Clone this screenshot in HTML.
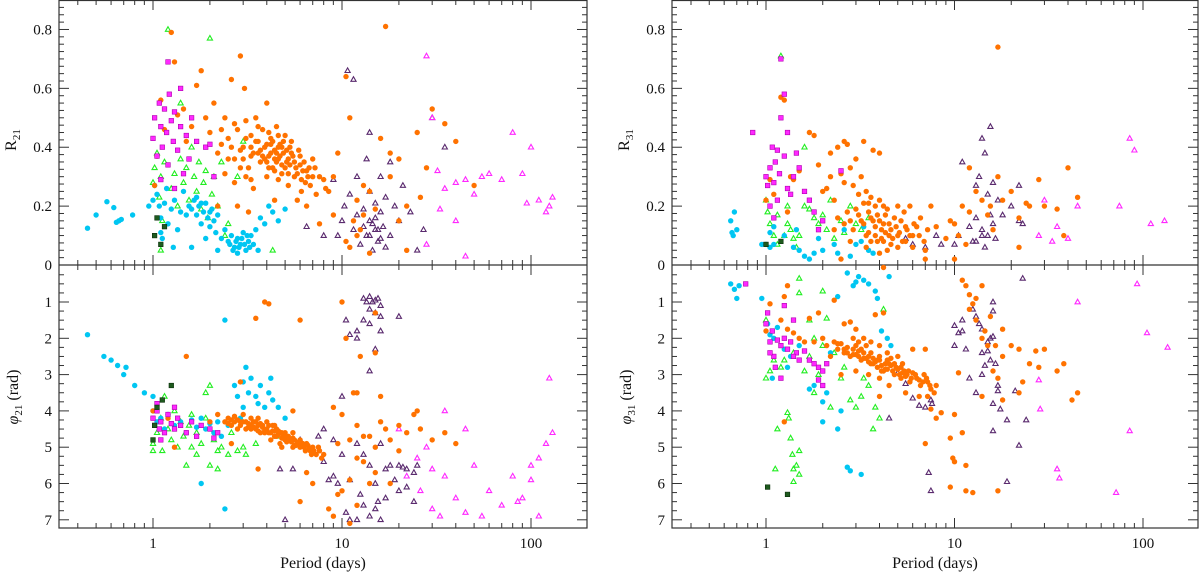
<!DOCTYPE html>
<html><head><meta charset="utf-8"><style>
html,body{margin:0;padding:0;background:#fff;width:1200px;height:576px;overflow:hidden}
svg text{font-family:"Liberation Serif",serif;fill:#111}
</style></head><body>
<svg id="chart" width="1200" height="576" xmlns="http://www.w3.org/2000/svg"></svg>
<script>
// ===== data: [period, value] pairs per series =====
const r21Cyan=[[0.45,0.125],[0.5,0.17],[0.57,0.215],[0.62,0.195],[0.64,0.145],[0.66,0.15],[0.68,0.155],[0.78,0.17],[0.95,0.2],[1.0,0.22],[1.02,0.27],[1.05,0.24],[1.08,0.2],[1.1,0.16],[1.12,0.09],[1.15,0.21],[1.18,0.26],[1.2,0.14],[1.25,0.19],[1.3,0.22],[1.35,0.12],[1.4,0.18],[1.45,0.25],[1.5,0.17],[1.55,0.2],[1.6,0.19],[1.65,0.22],[1.7,0.17],[1.75,0.2],[1.8,0.14],[1.85,0.18],[1.9,0.21],[1.95,0.16],[2.0,0.13],[2.05,0.19],[2.1,0.15],[2.15,0.11],[2.2,0.17],[2.3,0.09],[2.4,0.12],[2.5,0.08],[2.6,0.1],[2.7,0.06],[2.8,0.09],[2.9,0.07],[3.0,0.11],[3.1,0.05],[3.2,0.08],[3.3,0.1],[3.4,0.07],[3.5,0.12],[3.7,0.16],[3.9,0.14],[4.1,0.2],[4.3,0.18],[4.6,0.15],[5.0,0.19],[1.28,0.06],[1.6,0.06],[2.2,0.05],[2.8,0.04],[3.6,0.05],[1.1,0.11],[1.9,0.09],[2.55,0.07],[2.65,0.05],[2.75,0.08],[2.85,0.06],[2.95,0.09],[3.05,0.07],[3.15,0.1],[3.25,0.06],[1.7,0.23],[1.8,0.21],[2.0,0.18]];
const r21Mag=[[1.0,0.43],[1.02,0.5],[1.05,0.37],[1.08,0.55],[1.1,0.47],[1.12,0.4],[1.15,0.53],[1.18,0.45],[1.2,0.34],[1.22,0.58],[1.25,0.49],[1.28,0.42],[1.3,0.52],[1.35,0.39],[1.4,0.47],[1.45,0.31],[1.5,0.44],[1.55,0.36],[1.6,0.5],[1.1,0.29],[1.3,0.26],[1.7,0.42],[1.9,0.4],[2.0,0.41],[2.1,0.3],[1.2,0.69],[1.4,0.6]];
const r21Green=[[1.0,0.28],[1.02,0.33],[1.05,0.38],[1.08,0.23],[1.1,0.3],[1.12,0.15],[1.15,0.35],[1.2,0.8],[1.25,0.26],[1.3,0.31],[1.35,0.2],[1.4,0.36],[1.45,0.28],[1.5,0.33],[1.55,0.22],[1.6,0.4],[1.65,0.3],[1.7,0.25],[1.75,0.35],[1.8,0.19],[1.85,0.28],[1.9,0.32],[1.95,0.16],[2.0,0.77],[2.05,0.24],[2.1,0.3],[2.2,0.2],[2.3,0.35],[1.4,0.55],[2.5,0.14],[2.8,0.3],[3.0,0.42],[1.1,0.05],[2.4,0.1],[4.3,0.05]];
const r21Dark=[[1.02,0.1],[1.05,0.16],[1.1,0.07],[1.15,0.13]];
const r21Orange=[[1.02,0.27],[1.05,0.37],[1.1,0.56],[1.15,0.46],[1.25,0.79],[1.3,0.69],[1.35,0.51],[1.45,0.53],[1.6,0.47],[1.7,0.61],[1.8,0.66],[1.5,0.42],[1.9,0.5],[2.0,0.45],[2.1,0.55],[2.2,0.38],[2.3,0.41],[2.4,0.5],[2.5,0.43],[2.6,0.63],[2.7,0.36],[2.8,0.46],[2.9,0.71],[3.0,0.4],[3.05,0.6],[3.1,0.49],[3.2,0.33],[3.3,0.44],[3.4,0.38],[3.5,0.5],[3.6,0.42],[3.7,0.35],[3.8,0.46],[3.9,0.4],[4.0,0.55],[4.1,0.37],[4.2,0.43],[4.3,0.33],[4.4,0.39],[4.5,0.47],[4.6,0.36],[4.7,0.41],[4.8,0.34],[4.9,0.38],[5.0,0.44],[5.1,0.35],[5.2,0.31],[5.3,0.4],[5.5,0.37],[5.7,0.33],[5.9,0.39],[6.1,0.29],[6.3,0.35],[6.5,0.32],[6.8,0.27],[7.0,0.36],[7.3,0.24],[7.6,0.3],[8.0,0.29],[8.5,0.25],[2.4,0.31],[2.7,0.28],[3.1,0.3],[3.4,0.26],[3.8,0.37],[4.2,0.41],[4.5,0.38],[4.0,0.35],[4.4,0.36],[4.8,0.4],[5.2,0.36],[3.6,0.38],[3.0,0.36],[2.6,0.4],[3.3,0.4],[5.6,0.3],[6.0,0.34],[6.6,0.3],[7.2,0.33],[2.2,0.2],[2.8,0.2],[3.2,0.18],[4.4,0.22],[5.8,0.22],[6.5,0.2],[7.6,0.14],[8.2,0.26],[9.0,0.3],[9.5,0.38],[9.0,0.17],[10.5,0.64],[11,0.5],[12,0.22],[12.5,0.12],[11,0.06],[13,0.17],[13,0.27],[14,0.04],[15,0.19],[16,0.43],[18,0.3],[20,0.15],[22,0.2],[25,0.45],[28,0.33],[30,0.53],[35,0.48],[40,0.42],[50,0.27],[22,0.05],[17,0.81],[12,0.1],[14,0.25],[11.5,0.15],[10.5,0.08],[18,0.38],[20,0.36],[26,0.23]];
const r21OrangeCore=[[3.7,0.39],[3.9,0.36],[4.0,0.41],[4.1,0.33],[4.2,0.38],[4.3,0.42],[4.4,0.32],[4.5,0.35],[4.6,0.4],[4.7,0.37],[4.8,0.31],[4.9,0.42],[5.0,0.33],[5.1,0.39],[5.3,0.34],[5.4,0.38],[5.6,0.35],[5.8,0.31],[6.0,0.37],[6.2,0.32],[6.4,0.28],[6.7,0.33],[7.0,0.3],[3.5,0.42],[3.3,0.37],[3.1,0.43],[2.9,0.39],[2.5,0.36],[2.3,0.46],[2.7,0.48],[3.6,0.47],[4.1,0.45],[4.6,0.44],[5.4,0.42],[4.0,0.3],[4.6,0.29],[5.2,0.27],[3.3,0.29],[2.9,0.33],[6.1,0.25]];
const r21Purple=[[9.0,0.29],[9.5,0.1],[10.0,0.15],[10.3,0.2],[10.7,0.66],[11,0.24],[11.5,0.12],[12,0.3],[12,0.17],[12.5,0.07],[13,0.19],[13.5,0.1],[13.5,0.36],[14,0.25],[14,0.15],[14.5,0.05],[15,0.21],[15,0.12],[15.5,0.08],[16,0.18],[16,0.3],[16.5,0.13],[17,0.06],[17,0.23],[18,0.1],[18,0.35],[19,0.2],[20,0.15],[21,0.27],[23,0.18],[25,0.05],[30,0.5],[35,0.4],[11.5,0.63],[8,0.1],[6.5,0.13],[14,0.45],[27,0.12],[14.5,0.14],[15.5,0.12],[16,0.09],[15,0.16],[14,0.1],[13,0.13]];
const r21MagTri=[[28,0.71],[30,0.5],[32,0.32],[40,0.28],[45,0.29],[50,0.24],[55,0.3],[60,0.31],[70,0.29],[80,0.45],[90,0.31],[95,0.21],[100,0.4],[110,0.22],[120,0.18],[125,0.2],[130,0.23],[35,0.26],[40,0.15],[45,0.03],[33,0.19],[28,0.07]];

const p21Cyan=[[0.45,1.9],[0.55,2.5],[0.6,2.6],[0.65,2.75],[0.7,3.0],[0.72,2.8],[0.8,3.3],[0.9,3.5],[1.0,4.0],[1.0,3.6],[1.05,4.3],[1.1,4.2],[1.15,4.5],[1.2,4.1],[1.3,4.4],[1.4,4.3],[1.5,4.6],[1.6,4.25],[1.7,4.45],[1.8,4.2],[1.9,4.5],[2.0,4.35],[2.1,4.6],[2.2,4.3],[2.5,4.4],[2.7,3.3],[2.8,3.6],[3.0,3.2],[3.2,3.5],[3.3,3.1],[3.5,3.6],[3.7,3.3],[3.9,3.9],[4.1,3.5],[4.3,3.7],[4.6,3.9],[3.0,3.9],[3.6,3.8],[2.9,4.2],[2.4,1.5],[1.8,6.0],[2.4,6.7],[2.3,4.7],[3.1,2.8],[4.2,3.1],[5.0,4.2]];
const p21Mag=[[1.0,4.2],[1.02,4.4],[1.05,4.0],[1.08,4.5],[1.1,4.3],[1.15,4.6],[1.2,4.1],[1.25,4.35],[1.3,4.5],[1.35,4.2],[1.4,4.4],[1.5,4.6],[1.6,4.3],[1.7,4.7],[1.8,4.4],[2.0,4.5],[2.1,4.75],[2.2,4.6],[1.3,3.9],[1.05,3.8],[1.1,4.8]];
const p21Green=[[1.0,4.9],[1.0,5.1],[1.05,4.6],[1.1,4.2],[1.12,5.1],[1.15,3.6],[1.2,4.5],[1.25,4.8],[1.3,4.0],[1.35,5.0],[1.4,4.3],[1.45,4.7],[1.5,5.5],[1.55,4.4],[1.6,5.0],[1.7,4.6],[1.8,4.9],[1.9,4.2],[2.0,5.5],[2.1,4.8],[2.2,5.1],[2.3,5.0],[2.5,5.2],[2.6,4.6],[2.8,5.1],[3.0,5.0],[3.1,5.2],[2.0,3.3],[2.2,5.6],[3.5,4.9],[4.5,4.7],[1.7,5.2],[1.9,3.5],[1.6,4.1]];
const p21Dark=[[1.02,4.4],[1.05,3.9],[1.12,3.7],[1.25,3.3],[1.0,4.8]];
const p21Orange=[[1.0,4.0],[1.2,4.2],[1.3,5.0],[2.0,4.3],[2.2,4.1],[2.4,4.3],[2.5,4.2],[2.6,4.4],[2.7,4.3],[2.8,4.25],[2.9,4.4],[3.0,4.3],[3.1,4.5],[3.2,4.35],[3.3,4.4],[3.4,4.3],[3.5,4.5],[3.6,4.4],[3.7,4.6],[3.8,4.45],[3.9,4.55],[4.0,4.5],[4.1,4.4],[4.2,4.6],[4.3,4.55],[4.4,4.7],[4.5,4.5],[4.6,4.65],[4.7,4.6],[4.8,4.75],[4.9,4.65],[5.0,4.8],[5.2,4.7],[5.4,4.85],[5.6,4.8],[5.8,4.9],[6.0,5.0],[6.2,4.9],[6.4,5.1],[6.6,4.95],[6.8,5.1],[7.0,5.0],[7.3,5.2],[7.6,5.1],[8.0,5.2],[3.0,4.1],[3.3,4.2],[3.6,4.2],[4.0,4.3],[4.4,4.4],[5.0,4.6],[5.5,4.6],[6.0,4.8],[4.2,4.8],[4.7,4.9],[5.5,5.0],[2.8,4.5],[3.5,4.3],[1.5,2.5],[3.9,1.0],[4.1,1.05],[6.0,1.5],[3.5,1.45],[2.9,3.2],[2.6,4.9],[3.6,5.6],[4.8,5.0],[5.5,4.0],[6.5,5.7],[6.0,6.5],[7,6.0],[8.5,6.7],[9,6.9],[9.5,6.3],[10,6.2],[11,5.9],[11,7.1],[12,6.6],[11,4.8],[12,4.4],[10,1.0],[10.5,2.0],[12.5,2.5],[15,1.3],[15,2.4],[10,4.1],[13,4.7],[14,4.7],[15,5.0],[17,4.5],[18,4.8],[13,5.4],[15,5.7],[16,3.6],[16,4.3],[20,4.4],[22,4.6],[25,4.0],[30,4.8],[35,4.6],[40,4.9],[12,3.5],[9,3.9],[9.5,4.9],[11.5,3.5],[18,6.0],[14,6.0],[20,5.1],[26,4.5],[12,5.3],[24,4.1]];
const p21OrangeCore=[[2.5,4.35],[2.7,4.15],[2.9,4.3],[3.1,4.3],[3.3,4.5],[3.4,4.45],[3.6,4.55],[3.8,4.4],[3.9,4.6],[4.1,4.6],[4.3,4.4],[4.5,4.7],[4.6,4.55],[4.8,4.6],[5.0,4.7],[5.1,4.85],[5.3,4.8],[5.5,4.75],[5.7,4.95],[5.9,4.85],[6.1,4.95],[6.3,5.0],[6.5,4.9],[6.7,5.05],[6.9,5.2],[7.1,5.1],[7.5,5.0],[7.8,5.3],[2.6,4.25],[3.2,4.45],[3.7,4.35],[4.4,4.55],[4.9,4.75],[5.6,4.95]];
const p21Purple=[[13,0.9],[13.5,1.0],[14,0.85],[14.5,1.0],[15,0.95],[15.5,0.9],[16,1.1],[14,1.2],[15,1.3],[16,1.4],[13,1.5],[14,1.6],[12,1.8],[10.5,1.5],[11,1.9],[12,2.0],[15,2.3],[16,1.8],[14,2.9],[20,1.4],[8,5.4],[8.5,5.9],[5,7.0],[8,4.5],[9,4.8],[10,5.2],[10.5,6.8],[11,7.0],[12,7.0],[12.5,6.3],[13,6.6],[14,6.9],[15,6.7],[15.5,6.5],[16,7.0],[14,5.5],[15,6.0],[17,5.6],[18,5.5],[20,5.5],[21,5.55],[22,5.6],[24,5.7],[25,5.5],[17,6.4],[20,6.2],[19,5.9],[22,6.1],[24,6.5],[11,5.9],[9.5,6.0],[12,4.9],[13,5.2],[16,4.9],[7.5,4.7],[6,4.8],[5.5,5.6],[4.7,5.6],[10,3.6],[9,5.8]];
const p21MagTri=[[30,5.6],[28,5.0],[35,5.8],[40,6.4],[45,4.5],[50,5.5],[55,6.9],[60,6.2],[70,6.6],[80,5.8],[85,6.5],[100,5.9],[100,5.5],[110,5.3],[120,4.9],[130,4.6],[110,6.9],[125,3.1],[30,6.7],[26,6.2],[20,4.5],[90,6.4],[35,4.0],[22,5.8],[33,6.9],[45,6.8],[25,5.3]];

const r31Cyan=[[0.65,0.15],[0.68,0.18],[0.7,0.12],[0.66,0.11],[0.67,0.1],[0.95,0.07],[1.0,0.07],[1.05,0.06],[1.1,0.07],[1.05,0.11],[1.1,0.13],[1.4,0.06],[1.5,0.05],[1.6,0.03],[1.7,0.02],[1.8,0.04],[2.0,0.05],[2.3,0.07],[2.4,0.04],[2.8,0.03],[3.0,0.07],[3.2,0.08],[3.5,0.05],[3.7,0.04],[1.25,0.1],[2.6,0.12],[1.45,0.12],[1.9,0.09],[3.3,0.13]];
const r31Mag=[[0.85,0.45],[1.0,0.3],[1.02,0.27],[1.05,0.33],[1.08,0.4],[1.1,0.28],[1.12,0.35],[1.15,0.22],[1.18,0.31],[1.2,0.5],[1.25,0.37],[1.3,0.26],[1.35,0.24],[1.4,0.3],[1.45,0.38],[1.5,0.33],[1.6,0.25],[1.7,0.22],[1.8,0.18],[2.0,0.15],[2.5,0.32],[1.2,0.7],[1.25,0.58],[1.3,0.45],[1.05,0.2],[1.15,0.39],[1.9,0.12],[1.1,0.16]];
const r31Green=[[1.0,0.22],[1.02,0.18],[1.05,0.14],[1.1,0.1],[1.15,0.07],[1.2,0.71],[1.3,0.14],[1.35,0.12],[1.4,0.09],[1.45,0.06],[1.5,0.1],[1.6,0.2],[1.7,0.19],[1.8,0.16],[1.9,0.14],[2.0,0.17],[2.1,0.12],[2.3,0.09],[2.5,0.15],[2.6,0.11],[2.8,0.2],[3.0,0.14],[3.2,0.12],[3.5,0.16],[1.6,0.4],[2.2,0.22],[1.3,0.2],[1.15,0.17],[1.25,0.1]];
const r31Dark=[[1.0,0.07],[1.2,0.08]];
const r31Orange=[[1.0,0.22],[1.05,0.29],[1.1,0.24],[1.2,0.57],[1.25,0.56],[1.3,0.18],[1.35,0.3],[1.4,0.29],[1.5,0.32],[1.7,0.45],[1.8,0.44],[1.9,0.34],[2.0,0.25],[2.1,0.26],[2.2,0.38],[2.3,0.22],[2.4,0.4],[2.5,0.31],[2.6,0.28],[2.7,0.41],[2.8,0.33],[2.9,0.27],[3.0,0.36],[3.1,0.24],[3.2,0.3],[3.3,0.21],[3.4,0.25],[3.5,0.18],[3.6,0.23],[3.7,0.15],[3.8,0.2],[3.9,0.17],[4.0,0.22],[4.2,0.14],[4.4,0.19],[4.6,0.12],[4.8,0.16],[5.0,0.1],[5.2,0.15],[5.4,0.18],[5.6,0.12],[5.8,0.2],[6.0,0.1],[6.3,0.13],[6.6,0.16],[6.9,0.08],[7.2,0.12],[7.5,0.2],[8.0,0.13],[2.4,0.16],[2.6,0.14],[2.9,0.12],[3.2,0.15],[3.5,0.11],[3.8,0.1],[4.1,0.09],[4.5,0.1],[5.0,0.2],[5.5,0.08],[6.0,0.06],[7.0,0.05],[3.0,0.19],[4.3,0.17],[2.3,0.12],[2.8,0.08],[3.4,0.06],[4.0,0.04],[7.0,0.02],[2.5,0.02],[3.3,0.42],[2.6,0.42],[3.7,0.39],[4.0,0.38],[2.2,0.3],[9,0.09],[9.5,0.15],[10,0.14],[10.5,0.1],[11,0.2],[12,0.18],[13,0.25],[14,0.22],[15,0.17],[15.5,0.2],[16,0.12],[17,0.3],[18,0.22],[20,0.25],[22,0.16],[25,0.2],[28,0.29],[30,0.2],[35,0.19],[40,0.33],[45,0.23],[17,0.74],[12,0.33],[22,0.06],[11.5,0.07],[10,0.02],[38,0.1],[24,0.21]];
const r31OrangeCore=[[3.6,0.16],[3.8,0.13],[4.0,0.15],[4.1,0.12],[4.3,0.11],[4.5,0.14],[4.7,0.09],[4.9,0.13],[5.1,0.11],[5.3,0.08],[5.5,0.13],[5.8,0.1],[6.1,0.14],[6.5,0.1],[3.3,0.14],[3.1,0.17],[2.8,0.15],[4.2,0.08],[4.6,0.07],[3.9,0.08],[3.4,0.1],[5.0,0.06],[4.4,0.05],[3.6,0.08],[2.7,0.18],[3.5,0.21],[4.2,0.2]];
const r31Purple=[[10,0.07],[10.5,0.1],[11,0.35],[12,0.13],[12.5,0.08],[13,0.16],[13,0.27],[13.5,0.3],[14,0.43],[14,0.12],[14.5,0.38],[14.5,0.06],[15,0.1],[15,0.24],[15.5,0.17],[16,0.28],[16,0.14],[16.5,0.09],[17,0.22],[18,0.17],[20,0.2],[22,0.15],[15.5,0.47],[13,0.08],[14,0.1],[8,0.1],[8.5,0.07],[6,0.07],[5.5,0.09],[7,0.06],[22,0.27],[23,0.14]];
const r31MagTri=[[28,0.1],[30,0.22],[35,0.13],[40,0.09],[45,0.2],[75,0.2],[85,0.43],[90,0.39],[110,0.14],[130,0.15],[33,0.08]];

const p31Cyan=[[0.65,0.5],[0.68,0.65],[0.7,0.9],[0.72,0.55],[0.95,0.9],[1.02,1.6],[1.05,1.9],[1.1,2.0],[1.08,3.1],[1.3,2.8],[1.35,2.5],[1.5,2.2],[1.7,3.4],[1.8,3.3],[2.0,4.3],[2.0,3.75],[2.1,3.5],[2.2,2.4],[2.4,0.85],[2.4,4.5],[2.5,4.0],[2.7,0.2],[2.7,5.55],[2.8,5.65],[2.9,0.55],[3.0,0.45],[3.1,0.3],[3.2,5.75],[3.3,0.4],[3.5,0.5],[3.8,0.7],[3.9,0.9],[4.1,1.8],[4.4,2.0],[4.5,0.3],[4.6,2.2],[1.15,1.7],[1.25,2.3]];
const p31Mag=[[0.78,0.5],[1.0,1.6],[1.02,1.3],[1.05,2.1],[1.08,1.8],[1.1,2.5],[1.12,2.8],[1.15,2.05],[1.2,2.2],[1.25,1.1],[1.3,2.3],[1.35,2.1],[1.4,1.5],[1.45,2.4],[1.5,2.6],[1.6,2.35],[1.7,2.6],[1.8,2.7],[1.9,2.8],[2.0,2.9],[2.0,3.3],[2.1,2.7],[1.2,3.1],[1.05,2.4],[1.9,3.15],[1.25,2.0],[1.4,2.5]];
const p31Green=[[1.0,1.5],[1.0,3.1],[1.05,2.9],[1.1,2.6],[1.12,5.6],[1.15,4.5],[1.2,2.8],[1.25,2.6],[1.3,4.05],[1.32,4.2],[1.35,4.75],[1.38,5.2],[1.4,5.6],[1.4,5.95],[1.45,5.5],[1.5,5.1],[1.5,5.75],[1.5,0.35],[1.5,0.75],[1.7,1.5],[1.7,2.5],[1.8,3.5],[1.8,2.0],[1.9,3.0],[2.0,0.7],[2.0,2.2],[2.1,1.45],[2.2,3.9],[2.3,2.4],[2.5,3.1],[2.6,2.8],[2.8,3.7],[3.0,3.9],[3.2,3.6],[3.3,3.1],[3.5,3.3],[3.8,3.9],[4.0,4.2],[4.2,1.2],[3.7,4.5],[1.4,2.4],[1.6,2.9]];
const p31Dark=[[1.02,6.1],[1.3,6.3]];
const p31Orange=[[1.0,1.8],[1.05,1.05],[1.2,1.5],[1.25,0.85],[1.3,0.55],[1.3,1.75],[1.4,1.85],[1.5,2.0],[1.6,2.1],[1.7,1.45],[1.8,2.1],[1.9,1.3],[2.0,2.0],[2.1,2.2],[2.2,2.5],[2.3,2.1],[2.4,2.3],[2.5,2.15],[2.6,2.4],[2.7,2.25],[2.8,2.5],[2.9,2.3],[3.0,2.45],[3.1,2.35],[3.2,2.6],[3.3,2.4],[3.4,2.55],[3.5,2.5],[3.6,2.7],[3.7,2.55],[3.8,2.65],[3.9,2.8],[4.0,2.6],[4.1,2.75],[4.2,2.9],[4.3,2.7],[4.4,2.85],[4.6,2.75],[4.8,3.0],[5.0,2.85],[5.2,3.1],[5.4,2.9],[5.6,3.0],[5.8,3.2],[6.0,2.95],[6.3,3.1],[6.6,3.3],[6.9,3.0],[7.2,3.2],[7.5,3.4],[8.0,3.3],[2.6,1.6],[2.8,1.55],[3.0,1.75],[3.3,2.0],[3.6,2.1],[4.0,2.2],[4.4,2.4],[5.0,2.5],[6.0,2.3],[7.0,2.3],[2.5,3.0],[3.0,2.9],[3.5,3.0],[4.0,3.1],[4.5,3.3],[5.5,3.5],[6.5,3.6],[7.5,3.95],[8.5,4.05],[2.3,0.95],[4.2,0.05],[3.8,1.35],[4.2,1.3],[3.1,2.1],[3.4,2.2],[2.9,2.0],[4.6,2.55],[5.3,2.7],[1.25,4.3],[4.0,3.6],[7.2,3.6],[8.0,4.2],[7,4.9],[9.5,4.75],[9.5,6.1],[9.8,5.3],[10,5.4],[10,4.1],[10.5,2.95],[11,0.4],[11,4.6],[11.5,0.55],[11.5,5.5],[11.5,6.2],[12,0.8],[12.5,1.05],[12,1.2],[12.5,6.25],[13,0.9],[13,1.5],[14,0.55],[14,2.0],[14,3.6],[14.5,1.8],[15,2.2],[15.5,1.4],[16,2.9],[16.5,2.2],[17,3.1],[17,6.2],[18,1.75],[18,2.5],[18,3.7],[20,2.2],[22,3.5],[22,2.3],[23,3.2],[25,2.7],[27,2.35],[28,2.8],[30,2.3],[35,2.9],[38,2.7],[42,3.7],[45,3.5]];
const p31OrangeCore=[[2.7,2.4],[2.9,2.45],[3.1,2.5],[3.3,2.55],[3.5,2.65],[3.7,2.7],[3.9,2.6],[4.1,2.9],[4.3,2.85],[4.5,2.7],[4.7,2.9],[4.9,2.8],[5.1,3.0],[5.3,2.95],[5.5,3.05],[5.7,2.9],[5.9,3.1],[6.2,3.0],[6.5,3.15],[6.8,3.2],[7.1,3.1],[7.4,3.3],[7.8,3.5],[3.2,2.3],[3.6,2.4],[4.0,2.5],[4.4,2.6],[4.8,2.7],[5.2,2.8],[2.4,2.15],[2.6,2.3],[3.0,2.2]];
const p31Purple=[[7.5,3.7],[7.5,6.2],[7.3,5.7],[7.6,3.8],[7,3.9],[4.5,4.2],[10,1.65],[10,2.2],[10.5,1.85],[11,1.8],[11,1.5],[11.5,2.3],[12,3.1],[12.5,1.2],[13,1.4],[13,3.5],[13.5,1.6],[14,1.75],[14,2.4],[14.5,2.75],[14,3.0],[15,2.1],[15,2.35],[15.5,2.0],[15.5,2.6],[16,1.0],[16,1.25],[16,1.95],[16.5,2.7],[17,3.3],[17,3.45],[17.5,3.95],[16,3.8],[16,4.55],[19,4.25],[19,5.95],[21,3.45],[22,4.95],[23,0.35],[24,4.25],[5.5,3.25],[6,3.65],[6.5,3.85],[5,2.95]];
const p31MagTri=[[28,3.15],[28.5,3.95],[35,5.6],[36,5.85],[45,1.0],[72,6.25],[85,4.55],[93,0.5],[105,1.85],[135,2.25]];

const upperTicks=[0,0.2,0.4,0.6,0.8];
const upperTickLabels=["0","0.2","0.4","0.6","0.8"];
const lowerTicks=[1,2,3,4,5,6,7];
const xMajor=[1,10,100];
const xMajorLabels=["1","10","100"];

// ===== layout =====
const NS="http://www.w3.org/2000/svg";
const svg=document.getElementById('chart');
function mk(tag,attrs,parent){const e=document.createElementNS(NS,tag);for(const k in attrs)e.setAttribute(k,attrs[k]);(parent||svg).appendChild(e);return e;}
const panels=[
 {name:'left',x0:59,x1:587,one:153,dec:189},
 {name:'right',x0:672,x1:1198,one:766,dec:188.5}
];
const TOP=0,MID=265,BOT=528;
function xs(p,P){return p.one+p.dec*Math.log10(P);}
function yU(v){return MID-v*294.4;}
function yL(v){return 302+(v-1)*36.3;}

const COL={orange:'#ff7200',cyan:'#00c6f2',mag:'#ff28ff',green:'#22ee22',purple:'#5a2a6e',dark:'#1e5a1e'};

function drawPoint(g,kind,x,y){
  let el;
  if(kind==='orange'||kind==='cyan'){
    el=mk('circle',{cx:x.toFixed(1),cy:y.toFixed(1),r:2.7,fill:COL[kind]},g);
  } else if(kind==='mag'||kind==='dark'){
    el=mk('rect',{x:(x-2.3).toFixed(1),y:(y-2.3).toFixed(1),width:4.6,height:4.6,fill:COL[kind],stroke:kind==='mag'?'#b000b0':'#0a300a','stroke-width':0.6},g);
  } else {
    const c=kind==='purple'?COL.purple:(kind==='green'?COL.green:COL.mag);
    el=mk('polygon',{points:`${x.toFixed(1)},${(y-2.8).toFixed(1)} ${(x-2.6).toFixed(1)},${(y+1.8).toFixed(1)} ${(x+2.6).toFixed(1)},${(y+1.8).toFixed(1)}`,fill:'none',stroke:c,'stroke-width':1.1},g);
  }
  return el;
}
function drawSeries(p,data,kind,yfn,lo,hi,label){
  const g=mk('g',{});
  
  
  data.forEach(d=>{
    const x=xs(p,d[0]), y=yfn(d[1]);
    if(x<p.x0||x>p.x1||y<lo||y>hi) return;
    const el=drawPoint(g,kind,x,y);
    
    
  });
}

panels.forEach((p,i)=>{
  const frame=mk('g',{});
  
  
  mk('rect',{x:p.x0,y:TOP+0.5,width:p.x1-p.x0,height:BOT-TOP-0.5,fill:'none',stroke:'#333','stroke-width':1.2},frame);
  mk('line',{x1:p.x0,y1:MID,x2:p.x1,y2:MID,stroke:'#333','stroke-width':1.2},frame);
  for(let e=-1;e<=2;e++){for(let m=1;m<=9;m++){const P=m*Math.pow(10,e);const x=xs(p,P);if(x<=p.x0+1||x>=p.x1-1)continue;const L=m===1?10:5;
    [[TOP,1],[MID,1],[MID,-1],[BOT,-1]].forEach(([yy,dir])=>mk('line',{x1:x,y1:yy,x2:x,y2:yy+dir*L,stroke:'#333','stroke-width':1},frame));}}
  for(let k=0;k<=36;k++){const v=k*0.025;const y=yU(v);if(y<TOP+1)continue;const L=(k%8===0)?10:5;
    mk('line',{x1:p.x0,y1:y,x2:p.x0+L,y2:y,stroke:'#333','stroke-width':1},frame);
    mk('line',{x1:p.x1,y1:y,x2:p.x1-L,y2:y,stroke:'#333','stroke-width':1},frame);}
  for(let k=0;k<=30;k++){const v=k*0.25;const y=yL(v);if(y<=MID+1||y>=BOT-1)continue;const L=(k%4===0)?10:5;
    mk('line',{x1:p.x0,y1:y,x2:p.x0+L,y2:y,stroke:'#333','stroke-width':1},frame);
    mk('line',{x1:p.x1,y1:y,x2:p.x1-L,y2:y,stroke:'#333','stroke-width':1},frame);}
  upperTicks.forEach((v,j)=>{const t=mk('text',{x:p.x0-7,y:yU(v)+5,'text-anchor':'end','font-size':15});t.textContent=upperTickLabels[j];
    });
  lowerTicks.forEach(v=>{const t=mk('text',{x:p.x0-7,y:yL(v)+5,'text-anchor':'end','font-size':15});t.textContent=String(v);
    });
  xMajor.forEach((P,j)=>{const t=mk('text',{x:xs(p,P),y:548,'text-anchor':'middle','font-size':15});t.textContent=xMajorLabels[j];
    });
  const xt=mk('text',{x:(p.x0+p.x1)/2,y:568,'text-anchor':'middle','font-size':16});xt.textContent='Period (days)';
  
  const n=i===0?'21':'31';
  const ry=mk('text',{transform:`translate(${p.x0-43},140) rotate(-90)`,'text-anchor':'middle','font-size':16});
  ry.innerHTML=`R<tspan font-size="11" dy="4">${n}</tspan>`;
  
  const py=mk('text',{transform:`translate(${p.x0-41},397) rotate(-90)`,'text-anchor':'middle','font-size':16});
  py.innerHTML=`<tspan font-style="italic">φ</tspan><tspan font-size="11" dy="4">${n}</tspan><tspan dy="-4"> (rad)</tspan>`;
  
});

const L=panels[0],R=panels[1];
const up=[TOP+2,MID-1],lw=[MID+1,BOT-1];
drawSeries(L,r21Purple,'purple',yU,...up,'r21-purple-series');
drawSeries(L,r21MagTri,'magtri',yU,...up,'r21-magenta-triangle-series');
drawSeries(L,r21Green,'green',yU,...up,'r21-green-series');
drawSeries(L,r21Cyan,'cyan',yU,...up,'r21-cyan-series');
drawSeries(L,r21Orange,'orange',yU,...up,'r21-orange-series');
drawSeries(L,r21OrangeCore,'orange',yU,...up,'r21-orange-core-series');
drawSeries(L,r21Mag,'mag',yU,...up,'r21-magenta-series');
drawSeries(L,r21Dark,'dark',yU,...up,'r21-darkgreen-series');
drawSeries(L,p21Purple,'purple',yL,...lw,'phi21-purple-series');
drawSeries(L,p21MagTri,'magtri',yL,...lw,'phi21-magenta-triangle-series');
drawSeries(L,p21Green,'green',yL,...lw,'phi21-green-series');
drawSeries(L,p21Cyan,'cyan',yL,...lw,'phi21-cyan-series');
drawSeries(L,p21Orange,'orange',yL,...lw,'phi21-orange-series');
drawSeries(L,p21OrangeCore,'orange',yL,...lw,'phi21-orange-core-series');
drawSeries(L,p21Mag,'mag',yL,...lw,'phi21-magenta-series');
drawSeries(L,p21Dark,'dark',yL,...lw,'phi21-darkgreen-series');
drawSeries(R,r31Purple,'purple',yU,...up,'r31-purple-series');
drawSeries(R,r31MagTri,'magtri',yU,...up,'r31-magenta-triangle-series');
drawSeries(R,r31Green,'green',yU,...up,'r31-green-series');
drawSeries(R,r31Cyan,'cyan',yU,...up,'r31-cyan-series');
drawSeries(R,r31Orange,'orange',yU,...up,'r31-orange-series');
drawSeries(R,r31OrangeCore,'orange',yU,...up,'r31-orange-core-series');
drawSeries(R,r31Mag,'mag',yU,...up,'r31-magenta-series');
drawSeries(R,r31Dark,'dark',yU,...up,'r31-darkgreen-series');
drawSeries(R,p31Purple,'purple',yL,...lw,'phi31-purple-series');
drawSeries(R,p31MagTri,'magtri',yL,...lw,'phi31-magenta-triangle-series');
drawSeries(R,p31Green,'green',yL,...lw,'phi31-green-series');
drawSeries(R,p31Cyan,'cyan',yL,...lw,'phi31-cyan-series');
drawSeries(R,p31Orange,'orange',yL,...lw,'phi31-orange-series');
drawSeries(R,p31OrangeCore,'orange',yL,...lw,'phi31-orange-core-series');
drawSeries(R,p31Mag,'mag',yL,...lw,'phi31-magenta-series');
drawSeries(R,p31Dark,'dark',yL,...lw,'phi31-darkgreen-series');
</script>
</body></html>
